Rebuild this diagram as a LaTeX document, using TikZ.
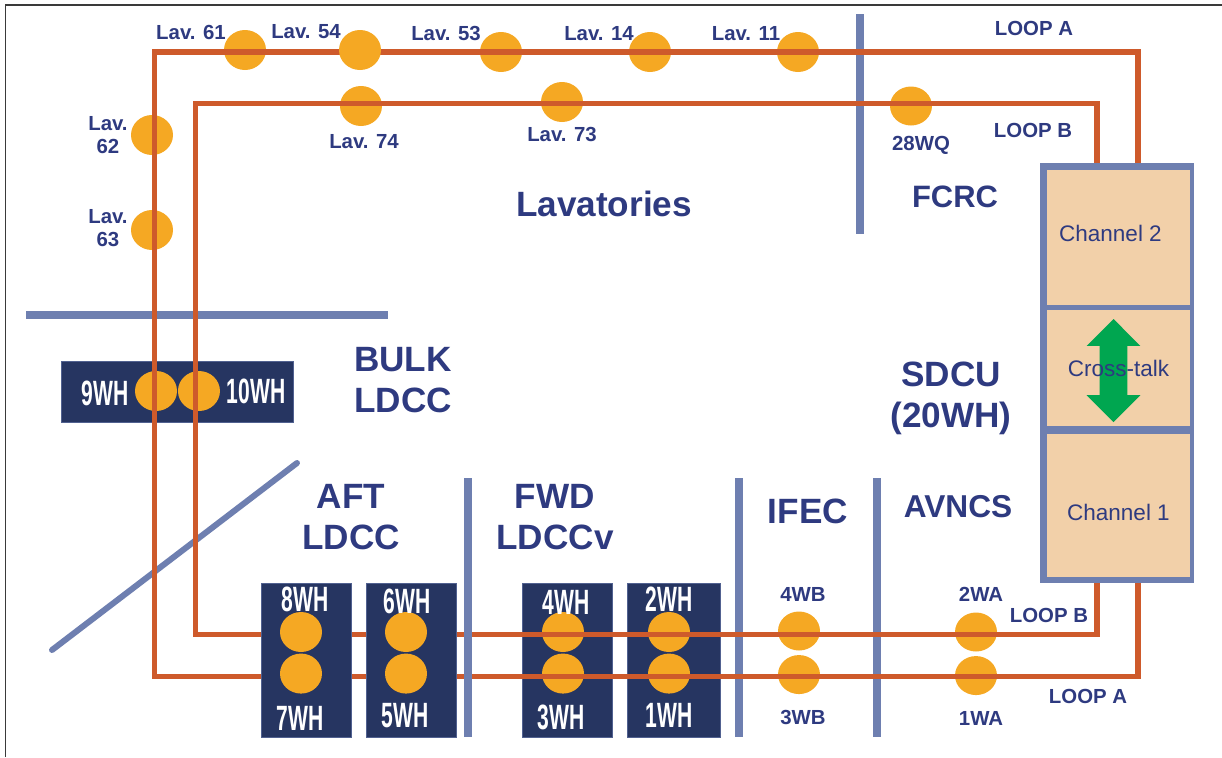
\documentclass[tikz,border=0pt]{standalone}
\usepackage{xcolor}
\usepackage{fontspec}
\setmainfont{Liberation Sans}
\newfontfamily\condfont[FakeStretch=0.6]{Liberation Sans}
\usepackage{tikz}
\usetikzlibrary{positioning,calc,shapes.geometric,shapes.arrows}
\definecolor{loopred}{HTML}{CE5A2B}
\definecolor{jointorange}{HTML}{F5A823}
\definecolor{barblue}{HTML}{6E7FB0}
\definecolor{boxnavy}{HTML}{263561}
\definecolor{labelnavy}{HTML}{2E3A80}
\definecolor{panelpeach}{HTML}{F2D0A9}
\definecolor{arrowgreen}{HTML}{00A650}
\definecolor{edgegray}{HTML}{3A3A3A}

\begin{document}
\begin{tikzpicture}[
    x=0.25mm, y=-0.25mm,
    loopline/.style={draw=loopred, line width=1.4mm, line join=miter},
    divider/.style={draw=barblue, line width=2mm},
    joint/.style={ellipse, fill=jointorange, minimum width=10.5mm, minimum height=10mm, inner sep=0pt},
    flatjoint/.style={joint, minimum height=9.75mm},
    wirebox/.style={fill=boxnavy, draw=barblue!60!boxnavy, line width=0.2mm, minimum width=22.5mm, minimum height=38.5mm, inner sep=0pt},
    panel/.style={fill=panelpeach, minimum width=35.75mm, inner sep=0pt},
    lablesmall/.style={font=\fontsize{14.5}{16.5}\selectfont\bfseries, text=labelnavy, inner sep=0pt, align=center},
    labelbig/.style={font=\fontsize{25}{29}\selectfont\bfseries, text=labelnavy, inner sep=0pt, align=center},
    labelpanel/.style={font=\fontsize{16}{18}\selectfont, text=labelnavy, inner sep=0pt},
    labelwire/.style={font=\fontsize{25}{29}\selectfont\condfont\bfseries, text=white, inner sep=0pt}
]
\useasboundingbox (0,0) rectangle (1222,757);

% Sheet edge
\draw[draw=edgegray, line width=0.35mm] (5.5,757) -- (5.5,5) -- (1222,5);

% Zone dividers
\draw[divider] (26,315) -- (388,315);
\draw[divider] (860,14) -- (860,234);
\draw[divider] (739,478) -- (739,737);
\draw[divider] (877,478) -- (877,737);
\draw[divider, line width=1.5mm, line cap=round] (52,650) -- (297,463);

% Wire bundles under the loops
\node[wirebox, minimum width=58mm, minimum height=15.25mm] (box9) at (177,391.5) {};
\node[wirebox] (box4) at (567.5,660) {};
\node[wirebox, minimum width=23.25mm] (box2) at (673.5,660) {};

% Joints under the loops
\node[joint] (lav61) at (245,50) {};
\node[joint] (lav53) at (501,52) {};
\node[joint] (lav14) at (650,52) {};
\node[joint] (lav11) at (798,52) {};
\node[joint] (lav74) at (361,106) {};
\node[joint] (lav73) at (562,102) {};
\node[flatjoint] (wq28) at (911,106) {};
\node[joint] (lav62) at (152,135) {};
\node[joint] (lav63) at (152,230) {};
\node[joint] (wh9) at (156,391) {};
\node[joint, right=0.1mm of wh9] (wh10) {};
\node[joint] (wh4) at (563,632) {};
\node[joint, below=0.25mm of wh4] (wh3) {};
\node[joint] (wh2) at (669,632) {};
\node[joint, below=0.25mm of wh2] (wh1) {};
\node[flatjoint] (wb4) at (799,631) {};
\node[flatjoint, below=1mm of wb4] (wb3) {};
\node[flatjoint] (wa2) at (976,632) {};
\node[flatjoint, below=1mm of wa2] (wa1) {};

% SDCU cabinet
\node[fill=barblue, minimum width=38.5mm, minimum height=105mm, inner sep=0pt] (sdcu) at (1117,373) {};
\node[panel, minimum height=33.75mm] (chtwo) at (1118.5,237.5) {};
\node[panel, minimum height=29mm] (chcross) at (1118.5,368) {};
\node[panel, minimum height=35.75mm] (chone) at (1118.5,505.5) {};
\node[double arrow, fill=arrowgreen, rotate=90, minimum height=25.75mm, inner xsep=0pt, inner ysep=3.4mm, double arrow head extend=3.25mm] (crossarrow) at (1113.5,370.5) {};
\node[labelpanel] (chtwolabel) at ($(chtwo)+(-8,-4)$) {Channel 2};
\node[labelpanel] (chcrosslabel) at ($(chcross)+(0,0)$) {Cross-talk};
\node[labelpanel] (chonelabel) at ($(chone)+(0,6.5)$) {Channel 1};

% Loops
\coordinate (loopAne) at (1138,52);
\coordinate (loopAnw) at (154.5,52);
\coordinate (loopAsw) at (154.5,676.5);
\coordinate (loopAse) at (1138,676.5);
\coordinate (loopBne) at (1097,103.5);
\coordinate (loopBnw) at (195.5,103.5);
\coordinate (loopBsw) at (195.5,634.5);
\coordinate (loopBse) at (1097,634.5);
\draw[loopline] (sdcu.north -| loopAne) -- (loopAne) -- (loopAnw) -- (loopAsw) -- (loopAse) -- (sdcu.south -| loopAse);
\draw[loopline] (sdcu.north -| loopBne) -- (loopBne) -- (loopBnw) -- (loopBsw) -- (loopBse) -- (sdcu.south -| loopBse);

% Bundles over the loops
\node[joint] (lav54) at (360,50) {};
\node[wirebox] (box8) at (306,660) {};
\node[wirebox] (box6) at (411,660) {};
\node[joint] (wh8) at (301,632) {};
\node[joint, below=0.25mm of wh8] (wh7) {};
\node[joint] (wh6) at (406,632) {};
\node[joint, below=0.25mm of wh6] (wh5) {};
\draw[divider] (468,478) -- (468,737);

% Joint labels
\node[lablesmall] (lablav61) at ($(lav61)+(-54,-18)$) {Lav. 61};
\node[lablesmall] (lablav54) at ($(lav54)+(-54,-18)$) {Lav. 54};
\node[lablesmall] (lablav53) at ($(lav53)+(-55,-19)$) {Lav. 53};
\node[lablesmall] (lablav14) at ($(lav14)+(-51,-18)$) {Lav. 14};
\node[lablesmall] (lablav11) at ($(lav11)+(-52,-18)$) {Lav. 11};
\node[lablesmall] (lablav74) at ($(lav74)+(3,36)$) {Lav. 74};
\node[lablesmall] (lablav73) at ($(lav73)+(0,32)$) {Lav. 73};
\node[lablesmall] (labwq28) at ($(wq28)+(10,39)$) {28WQ};
\node[lablesmall] (lablav62) at ($(lav62)+(-44,0)$) {Lav.\\62};
\node[lablesmall] (lablav63) at ($(lav63)+(-44,-2)$) {Lav.\\63};
\node[lablesmall] (labwb4) at ($(wb4)+(4,-37)$) {4WB};
\node[lablesmall] (labwb3) at ($(wb3)+(4,43)$) {3WB};
\node[lablesmall] (labwa2) at ($(wa2)+(5,-38)$) {2WA};
\node[lablesmall] (labwa1) at ($(wa1)+(5,43)$) {1WA};

% Loop names
\node[lablesmall] (labloopa1) at (1034,28) {LOOP A};
\node[lablesmall] (labloopb1) at (1033,130) {LOOP B};
\node[lablesmall] (labloopb2) at (1049,615) {LOOP B};
\node[lablesmall] (labloopa2) at (1088,696) {LOOP A};

% Zone names
\node[labelbig] (lavatories) at (604,204) {Lavatories};
\node[labelbig, font=\fontsize{22}{26}\selectfont\bfseries] (fcrc) at (955,197) {FCRC};
\node[labelbig, align=left] (bulk) at (403,380) {BULK\\LDCC};
\node[labelbig] (sdcuname) at (951,398) {SDCU\\(20WH)};
\node[labelbig] (aft) at (351,517) {AFT\\LDCC};
\node[labelbig] (fwd) at (555,517) {FWD\\LDCCv};
\node[labelbig] (ifec) at (808,511) {IFEC};
\node[labelbig, font=\fontsize{22.5}{26}\selectfont\bfseries] (avncs) at (958,507) {AVNCS};

% Bundle labels
\node[labelwire] (labwh9) at (105,393) {9WH};
\node[labelwire] (labwh10) at (256,391) {10WH};
\node[labelwire] (labwh8) at (305,599) {8WH};
\node[labelwire] (labwh7) at (300,718) {7WH};
\node[labelwire] (labwh6) at (407,601) {6WH};
\node[labelwire] (labwh5) at (405,716) {5WH};
\node[labelwire] (labwh4) at (566,602) {4WH};
\node[labelwire] (labwh3) at (561,717) {3WH};
\node[labelwire] (labwh2) at (669,599) {2WH};
\node[labelwire] (labwh1) at (669,715) {1WH};

\end{tikzpicture}
\end{document}
